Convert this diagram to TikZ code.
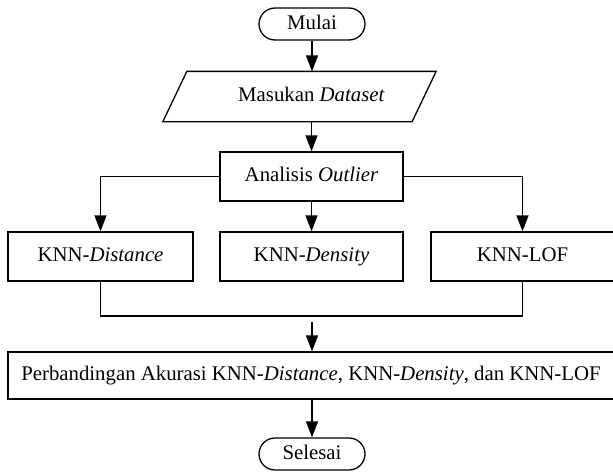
\documentclass[tikz,border=0pt]{standalone}
\usepackage{fontspec}
\setmainfont{Liberation Serif}
\usetikzlibrary{arrows.meta,calc}
\begin{document}
\begin{tikzpicture}[x=1pt,y=-1pt,
  line width=1.3pt,
  font=\fontsize{20.8}{24}\selectfont,
  every node/.style={text height=14pt, text depth=4pt},
  box/.style={draw, rectangle, minimum height=49pt, inner sep=0pt, anchor=center},
  term/.style={draw, rectangle, rounded corners=16pt, minimum width=106pt, minimum height=32pt, inner sep=0pt},
  arr/.style={-{Triangle[length=16pt,width=12pt]}}
]
\useasboundingbox (0,0) rectangle (613,472);
\node[term] (mulai) at (312,24) {Mulai};
\node[rectangle, minimum width=236pt, minimum height=49pt, inner sep=0pt] (input) at (311.5,96.5) {Masukan \textit{Dataset}};
\draw ($(input.north west)+(-6,0)$) -- ($(input.north east)+(6,0)$) -- ($(input.south east)+(-18,0)$) -- ($(input.south west)+(-30,0)$) -- cycle;
\node[box, minimum width=183pt] (analisis) at (311.5,176.5) {Analisis \textit{Outlier}};
\node[box, minimum width=185pt] (dist) at (100.5,256.5) {KNN-\textit{Distance}};
\node[box, minimum width=183pt] (dens) at (311.5,256.5) {KNN-\textit{Density}};
\node[box, minimum width=183pt] (lof) at (522.5,256.5) {KNN-LOF};
\node[box, minimum width=606pt, minimum height=47pt] (banding) at (311,375.5) {Perbandingan Akurasi KNN-\textit{Distance}, KNN-\textit{Density}, dan KNN-LOF};
\node[term] (selesai) at (312,454) {Selesai};
\coordinate (join) at (312,316);
\draw[arr] (mulai) -- (mulai.south |- input.north);
\draw[arr] (input.south -| analisis.north) -- (analisis);
\draw[arr] (analisis.west) -| (dist.north);
\draw[arr] (analisis.east) -| (lof.north);
\draw[arr] (analisis.south -| dens.north) -- (dens.north);
\draw (dist.south) |- (join) -| (lof.south);
\draw[arr] ($(join)+(0,6)$) -- (banding.north -| join);
\draw[arr] (banding.south -| selesai.north) -- (selesai.north);
\end{tikzpicture}
\end{document}
